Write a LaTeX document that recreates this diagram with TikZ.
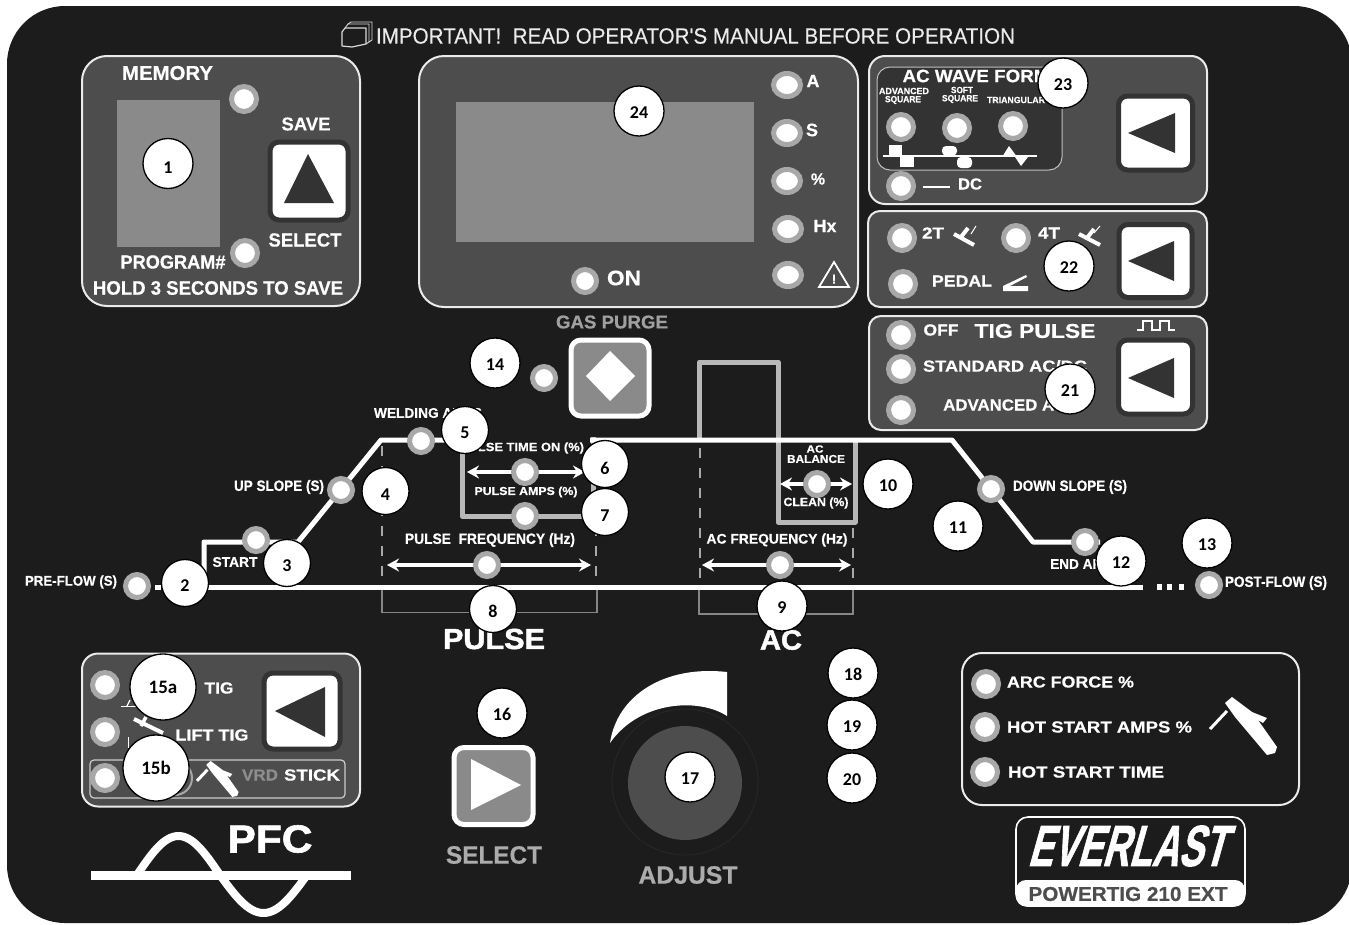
\documentclass[tikz,border=0pt]{standalone}
\usepackage{fontspec}
\usepackage{graphicx}
\setmainfont{Liberation Sans}[BoldFeatures={FakeBold=0.5}]
\newfontfamily\titlefont{Liberation Sans}[FakeBold=0.35]
\newfontfamily\heavyfont{Liberation Sans Bold}[FakeBold=1.6]
\newfontfamily\callfont{Carlito}
\usetikzlibrary{shapes.geometric,arrows.meta}
\definecolor{bgdark}{HTML}{1C1C1C}
\definecolor{panelgray}{HTML}{4D4D4D}
\definecolor{screengray}{HTML}{8A8A8A}
\definecolor{ringgray}{HTML}{A8A8A8}
\definecolor{linegray}{HTML}{B8B8B8}
\definecolor{framedark}{HTML}{333333}
\definecolor{dimtext}{HTML}{A0A0A0}
\newcommand\fw[3]{\resizebox{#1pt}{\height}{\fontsize{#2pt}{#2pt}\selectfont #3}}
\newcommand\cn[2][3]{\raisebox{\dimexpr-5.7pt-#1pt\relax}[0pt][0pt]{#2}}
\tikzset{
  panel/.style={draw=white!92!black,line width=2,fill=panelgray,rounded corners=#1},
  panel/.default=18,
  led/.style={ellipse,draw=ringgray,line width=5,fill=white,inner sep=0,minimum width=23,minimum height=23},
  ledwide/.style={led,minimum width=27,minimum height=23},
  ledbig/.style={led,minimum width=25,minimum height=25},
  btn/.style={rectangle,rounded corners=9,draw=framedark,line width=5,fill=white,inner sep=0,minimum width=#1,minimum height=#1},
  txt/.style={inner sep=0,text=white,font=\bfseries},
  callout/.style={circle,draw=black,line width=1.3,fill=white,inner sep=0,minimum size=50,font=\callfont\bfseries\fontsize{18pt}{18pt}\selectfont},
  calloutsmall/.style={callout,minimum size=47},
  calloutbig/.style={callout,minimum size=66,font=\callfont\bfseries\fontsize{19pt}{19pt}\selectfont},
  weld/.style={draw=white,line width=5,line join=round},
  grayline/.style={draw=linegray,line width=5,line join=round},
  dashline/.style={draw=ringgray,line width=1.8,dash pattern=on 10pt off 10pt},
  bracket/.style={draw=ringgray!80!black,line width=1.3},
  dblarrow/.style={draw=white,line width=3.2,{Stealth[length=12pt,width=13pt,inset=4pt]}-{Stealth[length=12pt,width=13pt,inset=4pt]}},
  darktri/.style={fill=framedark},
}
\newcommand\torchicon{%
  \draw[white,line width=3] (0,32) -- (17,14);
  \fill[white] (15,6) -- (22,0) -- (42,15) -- (57,21) -- (53,26) -- (48,23) -- (67,50) -- (65,56) -- (57,58) -- (25,20) -- cycle;
}
\begin{document}
\begin{tikzpicture}[x=1pt,y=-1pt]
\useasboundingbox (0,0) rectangle (1349,924);
\fill[white] (0,0) rectangle (1349,924);
\fill[bgdark,rounded corners=58] (7,6) rectangle (1352,923);

% title
\draw[white!85!black,line width=1.2,line join=round] (342,32) -- (342,46) -- (352,47) -- (366,44) -- (366,28) -- (345,28) -- cycle;
\draw[white!85!black,line width=.9] (345,28) -- (348,24) -- (369,24) -- (369,42) -- (366,44);
\draw[white!85!black,line width=.9] (348,24) -- (351,22) -- (372,22) -- (372,40) -- (369,42);
\node[inner sep=0,text=white!92!black] (title) at (695.5,36) {\titlefont\fw{639}{22}{\titlefont IMPORTANT!\ \ READ OPERATOR'S MANUAL BEFORE OPERATION}};

% memory panel
\node[panel=25,minimum width=278,minimum height=250,inner sep=0] (pmem) at (221,181) {};
\fill[screengray] (117,100) rectangle (220,247);
\node[ledbig] (lmem1) at (244,99) {};
\node[ledbig] (lmem2) at (245,253) {};
\node[txt] (tmem) at (167.5,73) {\fw{91}{20}{MEMORY}};
\node[txt] (tsave) at (306,124) {\fw{49}{18.5}{SAVE}};
\node[txt] (tsel) at (305,240) {\fw{73}{19}{SELECT}};
\node[txt] (tprog) at (173,262) {\fw{105}{19}{PROGRAM\#}};
\node[txt] (thold) at (218,288) {\fw{250}{19.5}{HOLD 3 SECONDS TO SAVE}};
\node[btn=78] (bsave) at (309,181) {};
\fill[darktri] (308,154) -- (334,203) -- (284,203) -- cycle;

% display panel
\node[panel=25,minimum width=439,minimum height=251,inner sep=0] (pdisp) at (638.5,181.5) {};
\fill[screengray] (456,102) rectangle (754,242);
\node[ledwide] (la) at (787,85) {};
\node[ledwide] (ls) at (787,133) {};
\node[ledwide] (lp) at (787,181) {};
\node[ledwide] (lh) at (788,229) {};
\node[ledwide] (lw) at (788,275) {};
\node[led] (lon) at (585,281) {};
\node[txt] (ta) at (813,81) {\fontsize{18pt}{18pt}\selectfont A};
\node[txt] (ts) at (812,130) {\fontsize{18pt}{18pt}\selectfont S};
\node[txt] (tp) at (818,179) {\fontsize{16pt}{16pt}\selectfont\%};
\node[txt] (th) at (825,226) {\fontsize{18pt}{18pt}\selectfont Hx};
\draw[white,line width=1.8,line join=miter] (834,262) -- (849,287) -- (819,287) -- cycle;
\node[txt] (twarn) at (834,279) {\fontsize{13pt}{13pt}\selectfont !};
\node[txt] (ton) at (624,278) {\fw{34}{21}{ON}};

% AC wave panel
\node[panel=16,minimum width=338,minimum height=148,inner sep=0] (pwave) at (1038,130) {};
\draw[white!75!black,line width=1,fill=framedark,rounded corners=13] (877,67) rectangle (1062,170);
\node[txt] (twave) at (976,76) {\fw{147}{18}{AC WAVE FORM}};
\node[txt] (tadv1) at (904,91) {\fw{50}{9}{ADVANCED}};
\node[txt] (tadv2) at (903,100) {\fw{36}{9}{SQUARE}};
\node[txt] (tsoft1) at (962,90) {\fw{22}{9}{SOFT}};
\node[txt] (tsoft2) at (960,99) {\fw{36}{9}{SQUARE}};
\node[txt] (ttri) at (1016,100) {\fw{58}{9}{TRIANGULAR}};
\node[ledbig] (lw1) at (901,127) {};
\node[ledbig] (lw2) at (957,128) {};
\node[ledbig] (lw3) at (1013,126) {};
\node[ledbig] (ldc) at (901,186) {};
\draw[white,line width=1.6] (883,156) -- (1037,156);
\fill[white] (889,145) rectangle (902,155.5);
\fill[white] (900,157) rectangle (914,167);
\fill[white,rounded corners=4] (942,146) -- (957,146) -- (957,155.5) -- (942,155.5) -- cycle;
\fill[white,rounded corners=4] (957,157) -- (972,157) -- (972,168) -- (957,168) -- cycle;
\fill[white] (1003,155.5) -- (1009,146) -- (1016,155.5) -- cycle;
\fill[white] (1015,157) -- (1028,157) -- (1021,166) -- cycle;
\draw[white,line width=2] (923,187) -- (950,187);
\node[txt] (tdc) at (970,184) {\fw{24}{16}{DC}};
\node[btn=74] (bwave) at (1155.5,133) {};
\fill[darktri] (1128,133) -- (1175,113) -- (1175,153) -- cycle;

% mode panel
\node[panel=12,minimum width=339,minimum height=96,inner sep=0] (pmode) at (1037.5,259) {};
\node[ledbig] (l2t) at (902,238) {};
\node[ledbig] (l4t) at (1016,238) {};
\node[ledbig] (lped) at (903,284) {};
\node[txt] (t2t) at (933,233) {\fw{22}{16}{2T}};
\node[txt] (t4t) at (1049,233) {\fw{22}{16}{4T}};
\node[txt] (tped) at (962,281) {\fw{60}{16}{PEDAL}};
\draw[white,line width=4] (954,234) -- (974,245);
\draw[white,line width=4] (961,237) -- (968,228);
\draw[white,line width=1] (971,234) -- (976,226);
\draw[white,line width=4] (1079,234) -- (1100,245);
\draw[white,line width=4] (1087,238) -- (1094,229);
\draw[white,line width=1] (1094,233) -- (1100,226);
\fill[white] (1003,289) -- (1003,286) -- (1026,275) -- (1027,277) -- (1010,286) -- (1028,286) -- (1028,291) -- (1003,291) -- cycle;
\node[btn=73] (bmode) at (1155.5,261) {};
\fill[darktri] (1128,261) -- (1174,241) -- (1174,281) -- cycle;

% TIG pulse panel
\node[panel=12,minimum width=338,minimum height=114,inner sep=0] (ppuls) at (1038,373) {};
\node[ledbig] (loff) at (901,335) {};
\node[ledbig] (lstd) at (901,369) {};
\node[ledbig] (ladv) at (901,410) {};
\node[txt] (toff) at (941,330) {\fw{35}{16}{OFF}};
\node[txt] (ttig) at (1035,331) {\fw{121}{20}{TIG PULSE}};
\node[txt] (tstd) at (1005,366) {\fw{164}{16}{STANDARD AC/DC}};
\node[txt,anchor=west] (tadv) at (943,405) {\fw{111}{16}{ADVANCED A}};
\draw[white,line width=1.5,line join=miter] (1137,330) -- (1143,330) -- (1143,321) -- (1152,321) -- (1152,330) -- (1160,330) -- (1160,321) -- (1169,321) -- (1169,330) -- (1175,330);
\node[btn=74] (bpuls) at (1155.5,377) {};
\fill[darktri] (1128,378) -- (1174,358) -- (1174,398) -- cycle;

% gas purge
\node[inner sep=0,text=dimtext,font=\bfseries] (tgas) at (612,322) {\fw{112}{18.5}{GAS PURGE}};
\node[rectangle,rounded corners=10,draw=white,line width=5,fill=screengray,inner sep=0,minimum width=78,minimum height=76] (bgas) at (610,378) {};
\fill[white] (610,351) -- (635,376) -- (610,401) -- (586,376) -- cycle;
\node[led] (l14) at (544,378) {};

% pulse grey path and AC grey path
\coordinate (pa) at (462,436);
\coordinate (pb) at (462,516);
\coordinate (pc) at (593,516);
\coordinate (pd) at (593,437);
\draw[grayline] (pa) -- (pb) -- (pc) -- (pd);
\coordinate (aa) at (699.5,440);
\coordinate (ab) at (699.5,362);
\coordinate (ac) at (778,362);
\coordinate (ad) at (778,522);
\coordinate (ae) at (855,522);
\coordinate (af) at (855,440);
\draw[grayline] (aa) -- (ab) -- (ac) -- (ad) -- (ae) -- (af);

% dashed guide lines
\coordinate (d1a) at (382,446); \coordinate (d1b) at (382,584);
\coordinate (d2a) at (596,526); \coordinate (d2b) at (596,584);
\coordinate (d3a) at (700,448); \coordinate (d3b) at (700,584);
\coordinate (d4a) at (853,528); \coordinate (d4b) at (853,584);
\draw[dashline] (d1a) -- (d1b);
\draw[dashline] (d2a) -- (d2b);
\draw[dashline] (d3a) -- (d3b);
\draw[dashline] (d4a) -- (d4b);
% brackets
\draw[bracket] (382,590) -- (382,612.5) -- (597,612.5) -- (597,590);
\draw[bracket] (699,590) -- (699,614) -- (853,614) -- (853,590);

% weld curve
\coordinate (w0) at (204,587);
\coordinate (w1) at (204,542);
\coordinate (w2) at (298,542);
\coordinate (w3) at (381,440);
\coordinate (w4) at (465,440);
\coordinate (w5) at (590,440);
\coordinate (w6) at (952,440);
\coordinate (w7) at (1033,542);
\coordinate (w8) at (1100,542);
\coordinate (b0) at (207,587);
\coordinate (b1) at (1143,587);
\coordinate (p0) at (155,587);
\coordinate (p1) at (161,587);
\draw[weld] (w0) -- (w1) -- (w2) -- (w3) -- (w4);
\draw[weld] (w5) -- (w6) -- (w7) -- (w8);
\draw[weld] (b0) -- (b1);
\draw[weld] (p0) -- (p1);
\fill[white] (1157,584) rectangle (1162,590);
\fill[white] (1167,584) rectangle (1172,590);
\fill[white] (1179,584) rectangle (1184,590);

% double arrows
\coordinate (a1l) at (467,472); \coordinate (a1r) at (585,472);
\coordinate (a2l) at (387,565); \coordinate (a2r) at (591,565);
\coordinate (a3l) at (702,565); \coordinate (a3r) at (851,565);
\coordinate (a4l) at (780,484); \coordinate (a4r) at (852,484);
\draw[dblarrow] (a1l) -- (a1r);
\draw[dblarrow] (a2l) -- (a2r);
\draw[dblarrow] (a3l) -- (a3r);
\draw[dblarrow] (a4l) -- (a4r);

% LEDs on the curve
\node[led] (lpre) at (137,586) {};
\node[led] (lstart) at (256,540) {};
\node[led] (lup) at (341,490) {};
\node[led] (lweld) at (421,441) {};
\node[led] (lton) at (525,472) {};
\node[led] (lamp) at (525,516) {};
\node[led] (lfreq) at (487,565) {};
\node[led] (lacf) at (780,565) {};
\node[led] (lbal) at (817,484) {};
\node[led] (ldown) at (991,489) {};
\node[led] (lend) at (1085,542) {};
\node[led] (lpost) at (1209,585) {};

% curve labels
\node[txt] (tpre) at (71,582) {\fw{92}{14}{PRE-FLOW (S)}};
\node[txt] (tstart) at (235,562) {\fw{45}{14}{START}};
\node[txt] (tup) at (279,487) {\fw{90}{15}{UP SLOPE (S)}};
\node[txt] (tweld) at (428,413) {\fw{108}{14}{WELDING AMPS}};
\node[txt] (tton) at (522,448) {\fw{124}{12}{PULSE TIME ON (\%)}};
\node[txt] (tpa) at (526,492) {\fw{103}{11.5}{PULSE AMPS (\%)}};
\node[txt] (tpf) at (490,540) {\fw{170}{15}{PULSE\ \ FREQUENCY (Hz)}};
\node[txt] (tacf) at (777,540) {\fw{141}{14}{AC FREQUENCY (Hz)}};
\node[txt] (tac1) at (815,449) {\fw{17}{10.5}{AC}};
\node[txt] (tbal) at (816,459) {\fw{58}{11.5}{BALANCE}};
\node[txt] (tcl) at (816,503) {\fw{65}{12}{CLEAN (\%)}};
\node[txt] (tdown) at (1070,487) {\fw{114}{15}{DOWN SLOPE (S)}};
\node[txt,anchor=west] (tend) at (1050,564) {\fw{62}{14}{END ARC}};
\node[txt] (tpost) at (1276,583) {\fw{102}{15}{POST-FLOW (S)}};
\node[inner sep=0,text=white] (tpulse) at (494,639) {\heavyfont\fw{102}{29}{\heavyfont PULSE}};
\node[inner sep=0,text=white] (tac) at (781,640) {\heavyfont\fw{42}{28}{\heavyfont AC}};

% bottom left panel
\node[panel=16,minimum width=278,minimum height=153,inner sep=0] (pproc) at (221,730) {};
\draw[white!80!black,line width=1.2,rounded corners=4] (90,760) rectangle (345,798);
\node[ledbig] (lt1) at (105,685) {};
\node[ledbig] (lt2) at (105,732) {};
\node[ledbig] (lt3) at (105,778) {};
\node[ellipse,draw=ringgray,line width=2,inner sep=0,minimum width=34,minimum height=34] (lt4) at (175,778) {};
\draw[white,line width=1] (121,706) -- (137,706);
\draw[white,line width=1.2] (127,706) -- (130,700);
\draw[white,line width=4] (134,719) -- (163,733);
\draw[white,line width=3.5] (141,726) -- (146,717);
\draw[white,line width=1] (128,737) -- (128,748);
\begin{scope}[shift={(197,761)},scale=.62]
\torchicon
\end{scope}
\node[txt] (ttig2) at (219,688) {\fw{29}{16}{TIG}};
\node[txt] (tlift) at (212,735) {\fw{73}{16}{LIFT TIG}};
\node[inner sep=0,text=ringgray!70!panelgray,font=\bfseries] (tvrd) at (260,775) {\fw{36}{16}{VRD}};
\node[txt] (tstick) at (312,775) {\fw{56}{16}{STICK}};
\node[btn=76] (bproc) at (302,711) {};
\fill[darktri] (275,711) -- (325,687) -- (325,737) -- cycle;

% PFC
\draw[white,line width=9] (91,875.5) -- (351,875.5);
\draw[white,line width=8] plot[domain=137:220,samples=40] (\x,{875-39*sin((\x-137)*180/83)});
\draw[white,line width=8] plot[domain=220:307,samples=40] (\x,{875+38*sin((\x-220)*180/87)});
\node[inner sep=0,text=white] (tpfc) at (270,839) {\heavyfont\fw{85}{39}{\heavyfont PFC}};

% select button
\node[rectangle,rounded corners=10,draw=white,line width=5,fill=screengray,inner sep=0,minimum width=79,minimum height=77] (bsel) at (493.5,786) {};
\fill[white] (471,759) -- (521,785) -- (471,810) -- cycle;
\node[inner sep=0,text=ringgray!95!white,font=\bfseries] (tsel2) at (494,855) {\fw{96}{25}{SELECT}};

% adjust knob
\fill[white] (610,743) .. controls (617,695) and (665,665) .. (727,672) -- (727,716) .. controls (700,698) and (640,700) .. (610,743) -- cycle;
\node[circle,draw=black!85,line width=1,fill=bgdark,inner sep=0,minimum size=146] (knob) at (685,782) {};
\node[circle,fill=panelgray,inner sep=0,minimum size=114] (knobc) at (685,783) {};
\node[inner sep=0,text=ringgray!95!white,font=\bfseries] (tadj) at (688,875) {\fw{99}{25}{ADJUST}};

% right bottom panel
\node[draw=white!92!black,line width=2,rounded corners=20,inner sep=0,minimum width=337,minimum height=152] (pstick) at (1130.5,729) {};
\node[ledbig] (ls1) at (986,684) {};
\node[ledbig] (ls2) at (985,727) {};
\node[ledbig] (ls3) at (985,772) {};
\node[txt] (tarc) at (1070.5,682) {\fw{127}{16}{ARC FORCE \%}};
\node[txt] (thot) at (1099.5,727) {\fw{185}{16}{HOT START AMPS \%}};
\node[txt] (thott) at (1086,772) {\fw{156}{16}{HOT START TIME}};
\begin{scope}[shift={(1210,697)}]
\torchicon
\end{scope}

% logo
\node[draw=white,line width=1.6,rounded corners=12,inner sep=0,minimum width=229,minimum height=89] (logo) at (1130.5,861.5) {};
\fill[white,rounded corners=10] (1016,880) rectangle (1245,906.5);
\node[inner sep=0,text=white,xslant=.28,transform shape] (tever) at (1132,846) {\resizebox{198pt}{\height}{\heavyfont\fontsize{58pt}{58pt}\selectfont EVERLAST}};
\node[inner sep=0,text=panelgray,font=\bfseries] (tpower) at (1128,894) {\fw{199}{20}{POWERTIG 210 EXT}};

% callouts
\node[callout] (c1) at (168,163.5) {\cn[4]{1}};
\node[calloutsmall] (c2) at (185,583) {\cn{2}};
\node[calloutsmall] (c3) at (287,563) {\cn{3}};
\node[calloutsmall] (c4) at (385.5,491) {\cn[4]{4}};
\node[calloutsmall] (c5) at (465,430) {\cn{5}};
\node[calloutsmall] (c6) at (605,464) {\cn[4.5]{6}};
\node[calloutsmall] (c7) at (605,512) {\cn[4]{7}};
\node[calloutsmall] (c8) at (493,609) {\cn{8}};
\node[callout] (c9) at (782,606) {\cn[2]{9}};
\node[callout] (c10) at (888,484) {\cn[2]{10}};
\node[callout] (c11) at (958,526) {\cn[2]{11}};
\node[callout] (c12) at (1121,561) {\cn[2]{12}};
\node[callout] (c13) at (1207,543) {\cn[2]{13}};
\node[callout] (c14) at (495,363) {\cn[2]{14}};
\node[calloutbig] (c15a) at (163,687) {\cn[1]{15a}};
\node[calloutbig] (c15b) at (156,768) {\cn[1]{15b}};
\node[callout] (c16) at (502,713) {\cn[2]{16}};
\node[callout] (c17) at (690,777) {\cn[2]{17}};
\node[callout] (c18) at (853,673) {\cn[2]{18}};
\node[callout] (c19) at (852,725) {\cn[2]{19}};
\node[callout] (c20) at (852,778) {\cn[2]{20}};
\node[callout] (c21) at (1070,389) {\cn[2]{21}};
\node[callout] (c22) at (1069,266) {\cn[2]{22}};
\node[callout] (c23) at (1063,83) {\cn[2]{23}};
\node[callout] (c24) at (639,111) {\cn[2]{24}};
\end{tikzpicture}
\end{document}
